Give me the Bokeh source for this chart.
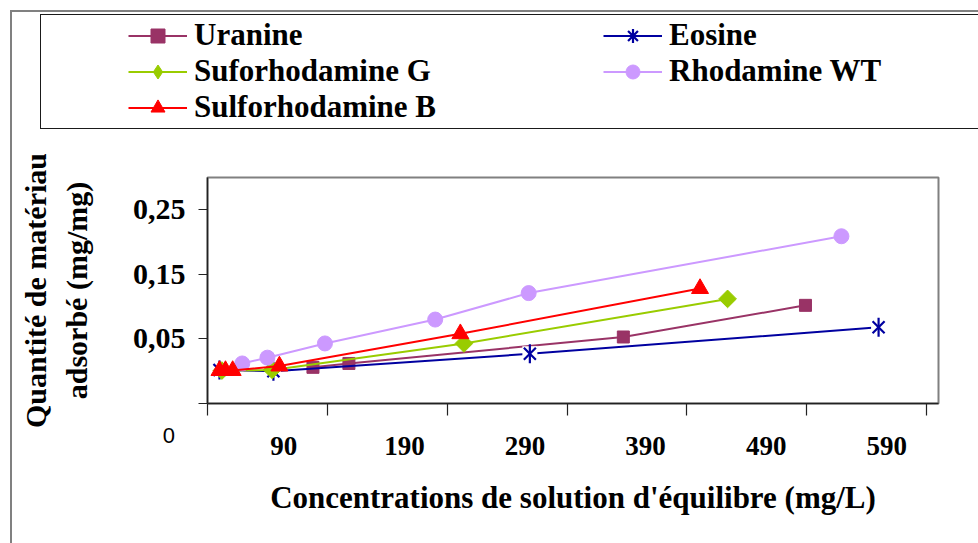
import math
from bokeh.plotting import figure
from bokeh.layouts import column
from bokeh.models import (FixedTicker, Range1d, LinearAxis, Legend, LegendItem,
                          InlineStyleSheet, Title)
from bokeh.embed import file_html
from bokeh.resources import INLINE

# ---------------- data ----------------
uranine_x = [78, 108, 337, 489]
uranine_y = [0.006, 0.012, 0.053, 0.102]

eosine_x = [0, 45, 259, 550]
eosine_y = [0.002, 0.0, 0.027, 0.068]

sulfoG_x = [2, 44, 204, 424]
sulfoG_y = [0.001, 0.002, 0.043, 0.112]

rhodWT_x = [19, 40, 88, 180, 258, 519]
rhodWT_y = [0.012, 0.021, 0.043, 0.080, 0.121, 0.209]

sulfoB_x = [0, 5, 11, 50, 201, 401]
sulfoB_y = [0.001, 0.001, 0.001, 0.008, 0.058, 0.128]

series_names = ["Uranine", "Eosine", "Suforhodamine G", "Rhodamine WT", "Sulforhodamine B"]

x_ticks = [-10, 90, 190, 290, 390, 490, 590]
x_label_values = [90, 190, 290, 390, 490, 590]
x_tick_labels = ["90", "190", "290", "390", "490", "590"]
y_ticks = [-0.05, 0.05, 0.15, 0.25]
y_tick_labels = ["", "0,05", "0,15", "0,25"]
origin_text = "0"

x_title = "Concentrations de solution d'équilibre (mg/L)"
y_title = "Quantité de matériau\nadsorbé (mg/mg)"

SERIF = "Liberation Serif"

styles = dict(
    uranine=dict(color="#993366", marker="square", size=12),
    eosine=dict(color="#0000A0", marker="star", size=17),
    sulfoG=dict(color="#99CC00", marker="rhombus", size=12.5),
    rhodWT=dict(color="#CC99FF", marker="circle", size=15),
    sulfoB=dict(color="#FF0000", marker="triangle", size=17),
)
series = [
    ("uranine", uranine_x, uranine_y),
    ("eosine", eosine_x, eosine_y),
    ("sulfoG", sulfoG_x, sulfoG_y),
    ("rhodWT", rhodWT_x, rhodWT_y),
    ("sulfoB", sulfoB_x, sulfoB_y),
]


def draw_series(fig, for_legend=False):
    out = {}
    for key, xs, ys in series:
        st = styles[key]
        ln = fig.line(xs, ys, line_color=st["color"], line_width=2)
        rs = [ln]
        if st["marker"] == "star":
            # Excel-style asterisk with a white backing that breaks the lines
            rs.append(fig.scatter(xs, ys, marker="square", size=15,
                                  fill_color="white", line_color=None))
            if for_legend:
                rs.append(fig.scatter(xs, ys, marker="asterisk", size=st["size"],
                                      line_color=st["color"], line_width=2.2))
            else:
                rs.append(fig.scatter(xs, ys, marker="x", size=st["size"],
                                      line_color=st["color"], line_width=2.2))
                rs.append(fig.scatter(xs, ys, marker="dash", size=st["size"] + 2,
                                      angle=math.pi / 2, line_color=st["color"],
                                      line_width=2.2))
        elif st["marker"] == "rhombus":
            if for_legend:
                rs.append(fig.scatter(xs, ys, marker="diamond", size=st["size"],
                                      fill_color=st["color"], line_color=st["color"]))
            else:
                rs.append(fig.scatter(xs, ys, marker="square", size=st["size"],
                                      angle=math.pi / 4,
                                      fill_color=st["color"], line_color=st["color"]))
        else:
            rs.append(fig.scatter(xs, ys, marker=st["marker"], size=st["size"],
                                  fill_color=st["color"], line_color=st["color"]))
        out[key] = rs
    return out


# ---------------- legend strip (top figure) ----------------
top = figure(width=970, height=150, output_backend="svg", toolbar_location=None,
             x_range=Range1d(-10, 600), y_range=Range1d(10, 11),
             x_axis_location=None, y_axis_location=None, min_border=0)
top.frame_align = False
top.grid.visible = False
top.outline_line_alpha = 0
top.background_fill_color = "white"
top.border_fill_color = "white"
top_r = draw_series(top, for_legend=True)   # outside this strip's y-range; legend glyphs only

items = [
    LegendItem(label=series_names[0], renderers=top_r["uranine"]),
    LegendItem(label=series_names[2], renderers=top_r["sulfoG"]),
    LegendItem(label=series_names[4], renderers=top_r["sulfoB"]),
    LegendItem(label=series_names[1], renderers=top_r["eosine"]),
    LegendItem(label=series_names[3], renderers=top_r["rhodWT"]),
]
legend = Legend(items=items, location=(128, 24.8), orientation="vertical", nrows=3,
                padding=0, spacing=0, margin=0, glyph_width=59, glyph_height=35,
                label_height=35, label_width=409, label_standoff=7,
                border_line_alpha=0, background_fill_alpha=0,
                label_text_font=SERIF, label_text_font_style="bold",
                label_text_font_size="31px", label_text_color="black")
top.add_layout(legend)

# ---------------- main chart ----------------
p = figure(width=970, height=385, output_backend="svg", toolbar_location=None,
           x_range=Range1d(-10, 600), y_range=Range1d(-0.05, 0.30),
           min_border_left=207, min_border_right=32, min_border_top=27,
           min_border_bottom=132)
p.frame_align = False
p.extra_x_ranges = {"lbl": Range1d(26.7, 632.9)}
p.grid.visible = False
p.background_fill_color = "white"
p.border_fill_color = "white"
p.outline_line_color = "#808080"
p.outline_line_width = 2

# main x axis: tick marks only
xa = p.xaxis[0]
xa.ticker = FixedTicker(ticks=x_ticks)
xa.major_label_overrides = {t: "" for t in x_ticks}
xa.major_tick_out = 12
xa.major_tick_in = 0
xa.minor_tick_out = 0
xa.minor_tick_in = 0
xa.major_label_standoff = 0
xa.axis_line_color = "#222222"
xa.axis_line_width = 1.5
xa.major_tick_line_color = "#222222"
xa.major_tick_line_width = 1.2

# lone "0" below the origin
zero = Title(text=origin_text, align="left", offset=-44.8, vertical_align="top",
             standoff=24, text_font="Liberation Sans", text_font_size="22px",
             text_font_style="normal", text_color="black")
p.add_layout(zero, "below")

# x tick labels axis
la = LinearAxis(x_range_name="lbl", ticker=FixedTicker(ticks=x_label_values),
                major_label_overrides={v: s for v, s in zip(x_label_values, x_tick_labels)})
la.major_tick_out = 0
la.major_tick_in = 0
la.minor_tick_out = 0
la.minor_tick_in = 0
la.axis_line_alpha = 0
la.major_tick_line_alpha = 0
la.major_label_standoff = -20
la.major_label_text_font = SERIF
la.major_label_text_font_style = "bold"
la.major_label_text_font_size = "27px"
la.major_label_text_color = "black"
la.axis_label = x_title
la.axis_label_text_font = SERIF
la.axis_label_text_font_style = "bold"
la.axis_label_text_font_size = "31px"
la.axis_label_standoff = 22
la.axis_label_text_color = "black"
p.add_layout(la, "below")

# y axis
ya = p.yaxis[0]
ya.ticker = FixedTicker(ticks=y_ticks)
ya.major_label_overrides = {v: s for v, s in zip(y_ticks, y_tick_labels)}
ya.major_tick_out = 9
ya.major_tick_in = 0
ya.minor_tick_out = 0
ya.minor_tick_in = 0
ya.major_label_standoff = 13
ya.major_label_text_font = SERIF
ya.major_label_text_font_style = "bold"
ya.major_label_text_font_size = "30px"
ya.major_label_text_color = "black"
ya.axis_line_color = "#222222"
ya.axis_line_width = 1.5
ya.major_tick_line_color = "#222222"
ya.major_tick_line_width = 1.2
ya.axis_label = y_title
ya.axis_label_text_font = SERIF
ya.axis_label_text_font_style = "bold"
ya.axis_label_text_font_size = "30px"
ya.axis_label_text_line_height = 1.25
ya.axis_label_standoff = 37
ya.axis_label_text_color = "black"

draw_series(p)

css = """
:host::before {
  content: ""; position: absolute; left: 10px; top: 10px; width: 968px; height: 533px;
  box-sizing: border-box; border-left: 2px solid #808080; border-top: 2px solid #808080;
  pointer-events: none; z-index: 5;
}
:host::after {
  content: ""; position: absolute; left: 40px; top: 14px; width: 938px; height: 115px;
  box-sizing: border-box; border: 1.5px solid #1a1a1a; border-right: none;
  pointer-events: none; z-index: 5;
}
"""
layout = column(top, p, spacing=0, stylesheets=[InlineStyleSheet(css=css)])

open("out.html", "w").write(file_html(layout, INLINE))
